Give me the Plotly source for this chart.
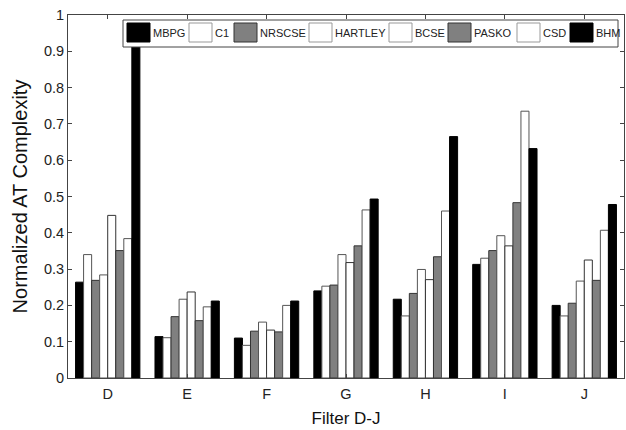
import plotly.graph_objects as go

categories = ["D", "E", "F", "G", "H", "I", "J"]
series_names = ["MBPG", "C1", "NRSCSE", "HARTLEY", "BCSE", "PASKO", "CSD", "BHM"]

MBPG    = [0.264, 0.114, 0.110, 0.240, 0.217, 0.313, 0.200]
C1      = [0.340, 0.111, 0.090, 0.253, 0.171, 0.330, 0.171]
NRSCSE  = [0.269, 0.169, 0.129, 0.256, 0.233, 0.351, 0.206]
HARTLEY = [0.284, 0.217, 0.154, 0.340, 0.299, 0.392, 0.267]
BCSE    = [0.448, 0.237, 0.132, 0.318, 0.271, 0.364, 0.325]
PASKO   = [0.351, 0.158, 0.127, 0.364, 0.334, 0.483, 0.269]
CSD     = [0.384, 0.196, 0.200, 0.463, 0.460, 0.735, 0.407]
BHM     = [0.920, 0.212, 0.212, 0.493, 0.665, 0.632, 0.478]

series_values = [MBPG, C1, NRSCSE, HARTLEY, BCSE, PASKO, CSD, BHM]
fills = ["#000000", "#ffffff", "#808080", "#ffffff", "#ffffff", "#808080", "#ffffff", "#000000"]
edges = ["#000000", "#555555", "#333333", "#555555", "#333333", "#333333", "#555555", "#000000"]

yticks = [0, 0.1, 0.2, 0.3, 0.4, 0.5, 0.6, 0.7, 0.8, 0.9, 1]
yticklabels = ["0", "0.1", "0.2", "0.3", "0.4", "0.5", "0.6", "0.7", "0.8", "0.9", "1"]

W, H = 626, 430
ML, MR, MT, MB = 68, 2, 15, 52
PW, PH = W - ML - MR, H - MT - MB
FONT = "Liberation Sans, Arial"


def px_x(p):
    return (p - ML) / PW


def px_y(p):
    return 1 - (p - MT) / PH


fig = go.Figure()
for name, vals, fc, ec in zip(series_names, series_values, fills, edges):
    fig.add_trace(go.Bar(x=categories, y=vals, name=name, showlegend=False,
                         marker=dict(color=fc, line=dict(color=ec, width=1))))

# Custom MATLAB-style legend (one row, large swatches)
legend_box = (123, 20, 618, 47)          # pixel box: x0, y0, x1, y1
legend_swatch_x = [127, 189, 234, 309, 389, 448, 517, 570]
swatch_w, swatch_y0, swatch_y1 = 23, 23, 42

shapes = [dict(type="rect", xref="paper", yref="paper", layer="above",
               x0=px_x(legend_box[0]), x1=px_x(legend_box[2]),
               y0=px_y(legend_box[3]), y1=px_y(legend_box[1]),
               fillcolor="white", line=dict(color="#444444", width=1))]
annotations = []
for name, sx, fc, ec in zip(series_names, legend_swatch_x, fills, edges):
    shapes.append(dict(type="rect", xref="paper", yref="paper", layer="above",
                       x0=px_x(sx), x1=px_x(sx + swatch_w),
                       y0=px_y(swatch_y1), y1=px_y(swatch_y0),
                       fillcolor=fc, line=dict(color=ec if fc != "#ffffff" else "#999999", width=1)))
    annotations.append(dict(xref="paper", yref="paper", x=px_x(sx + swatch_w + 1),
                            y=px_y((swatch_y0 + swatch_y1) / 2), text=name, showarrow=False,
                            xanchor="left", yanchor="middle",
                            font=dict(family=FONT, size=11, color="#222222")))

axis_common = dict(showline=True, linecolor="#444444", linewidth=1, mirror="ticks",
                   ticks="inside", ticklen=4, tickcolor="#444444", showgrid=False,
                   zeroline=False, tickfont=dict(family=FONT, size=14.5, color="#222222"))

fig.update_layout(
    width=W, height=H,
    margin=dict(l=ML, r=MR, t=MT, b=MB),
    paper_bgcolor="white", plot_bgcolor="white",
    barmode="group", bargap=0.19, bargroupgap=0,
    showlegend=False,
    shapes=shapes, annotations=annotations,
    xaxis=dict(title=dict(text="Filter D-J", font=dict(family=FONT, size=17, color="#111111"), standoff=10),
               range=[-0.5, 6.5], ticklabelstandoff=3, **axis_common),
    yaxis=dict(title=dict(text="Normalized AT Complexity", font=dict(family=FONT, size=20, color="#111111"), standoff=10),
               range=[0, 1], tickvals=yticks, ticktext=yticklabels, **axis_common),
)

fig.write_html("out.html", config={"displayModeBar": False},
               post_script="document.body.style.margin='0';document.body.style.overflow='hidden';")
